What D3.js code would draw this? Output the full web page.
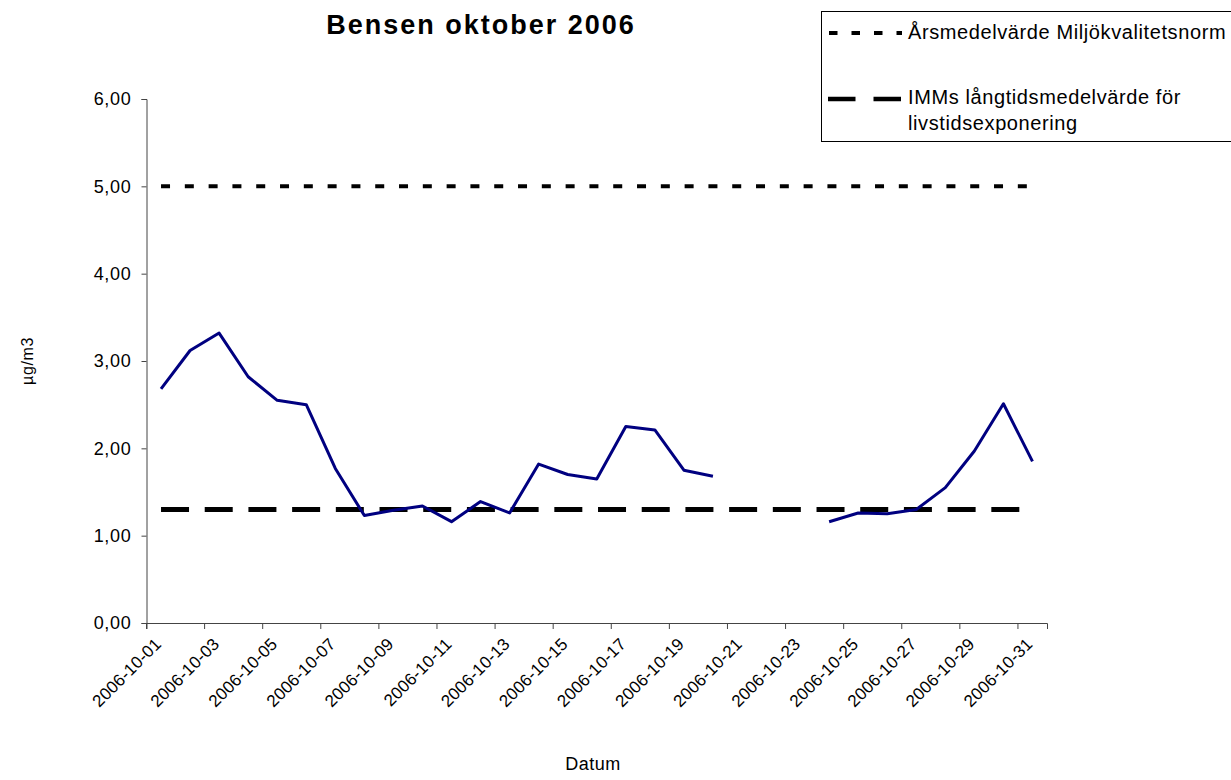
<!DOCTYPE html>
<html><head><meta charset="utf-8">
<script src="https://cdn.jsdelivr.net/npm/d3@7"></script>
<style>
body{margin:0;background:#fff;}
text{font-family:"Liberation Sans",Arial,sans-serif;fill:#000;}
</style></head>
<body><svg id="c" width="1231" height="780"></svg>
<script>
const dates = ["2006-10-01","2006-10-02","2006-10-03","2006-10-04","2006-10-05","2006-10-06","2006-10-07","2006-10-08","2006-10-09","2006-10-10","2006-10-11","2006-10-12","2006-10-13","2006-10-14","2006-10-15","2006-10-16","2006-10-17","2006-10-18","2006-10-19","2006-10-20","2006-10-21","2006-10-22","2006-10-23","2006-10-24","2006-10-25","2006-10-26","2006-10-27","2006-10-28","2006-10-29","2006-10-30","2006-10-31"];
const bensen = [2.68,3.12,3.32,2.82,2.55,2.50,1.77,1.23,1.29,1.34,1.16,1.39,1.26,1.82,1.70,1.65,2.25,2.21,1.75,1.68,null,null,null,1.16,1.26,1.25,1.30,1.55,1.97,2.51,1.85];
const arsmedel = 5.0;
const imm = 1.3;
const yTicks = [0,1,2,3,4,5,6];
const title = "Bensen oktober 2006";
const legendLabels = ["Årsmedelvärde Miljökvalitetsnorm", "IMMs långtidsmedelvärde för", "livstidsexponering"];

const svg = d3.select("#c");
const L = 146.5, R = 1047, T = 99, B = 623;
const x = d3.scaleBand().domain(dates).range([L, R]).padding(0);
const y = d3.scaleLinear().domain([0, 6]).range([B, T]);
const cx = d => x(d) + x.bandwidth() / 2;
const axisColor = "#444";
const fmt = v => d3.format(".2f")(v).replace(".", ",");

// title
svg.append("text").attr("x", 481).attr("y", 34).attr("text-anchor", "middle")
  .style("font-size", "27px").style("font-weight", "bold").style("letter-spacing", "2px").text(title);

// y axis
const ya = svg.append("g").attr("transform", `translate(${L},0)`)
  .call(d3.axisLeft(y).tickValues(yTicks).tickSize(5).tickPadding(10).tickFormat(fmt));
ya.select(".domain").attr("stroke", axisColor);
ya.selectAll(".tick line").attr("stroke", axisColor);
ya.selectAll(".tick text").style("font-size", "18px").style("letter-spacing", "0.7px")
  .style("font-family", '"Liberation Sans",Arial,sans-serif').attr("fill", "#000");

// x axis
const xTickVals = dates.filter((d, i) => i % 2 === 0);
const xa = svg.append("g").attr("transform", `translate(0,${B})`)
  .call(d3.axisBottom(x).tickValues(xTickVals).tickSize(6).tickFormat(""));
xa.select(".domain").attr("stroke", axisColor);
xa.selectAll(".tick").attr("transform", d => `translate(${x(d)},0)`);
xa.selectAll(".tick line").attr("stroke", axisColor);
xa.selectAll(".tick text").remove();
svg.append("g").selectAll("text").data(xTickVals).join("text")
  .attr("transform", d => `translate(${cx(d) - 3},${B + 18}) rotate(-45)`)
  .attr("text-anchor", "end").attr("dy", "0.35em")
  .style("font-size", "17px").style("letter-spacing", "0.2px").text(d => d);

// axis titles
svg.append("text").attr("transform", `translate(33,361) rotate(-90)`).attr("text-anchor", "middle")
  .style("font-size", "16px").style("letter-spacing", "0.6px").text("µg/m3");
svg.append("text").attr("x", 593).attr("y", 770).attr("text-anchor", "middle")
  .style("font-size", "18px").style("letter-spacing", "0.5px").text("Datum");

// reference lines
const x0 = cx(dates[0]), x1 = cx(dates[dates.length - 1]);
svg.append("line").attr("x1", x0).attr("x2", x1).attr("y1", y(arsmedel)).attr("y2", y(arsmedel))
  .attr("stroke", "#000").attr("stroke-width", 4).attr("stroke-dasharray", "9,14.8");
svg.append("line").attr("x1", x0).attr("x2", x1).attr("y1", y(imm)).attr("y2", y(imm))
  .attr("stroke", "#000").attr("stroke-width", 5).attr("stroke-dasharray", "28,15.7");

// data line
const line = d3.line().defined(d => d.v !== null).x(d => cx(d.d)).y(d => y(d.v));
svg.append("path").datum(dates.map((d, i) => ({d, v: bensen[i]})))
  .attr("d", line).attr("fill", "none").attr("stroke", "#000080").attr("stroke-width", 3)
  .attr("stroke-linejoin", "round");

// legend
const lg = svg.append("g");
lg.append("rect").attr("x", 821.5).attr("y", 11.5).attr("width", 420).attr("height", 130)
  .attr("fill", "#fff").attr("stroke", "#000").attr("stroke-width", 1);
lg.append("line").attr("x1", 829).attr("x2", 902).attr("y1", 33).attr("y2", 33)
  .attr("stroke", "#000").attr("stroke-width", 4).attr("stroke-dasharray", "8.5,14");
lg.append("line").attr("x1", 828).attr("x2", 902).attr("y1", 99).attr("y2", 99)
  .attr("stroke", "#000").attr("stroke-width", 4.5).attr("stroke-dasharray", "27.5,18");
const lgFont = t => t.style("font-size", "20px").style("letter-spacing", "0.6px");
lg.append("text").attr("x", 908).attr("y", 39).call(lgFont).text(legendLabels[0]);
lg.append("text").attr("x", 908).attr("y", 104).call(lgFont).text(legendLabels[1]);
lg.append("text").attr("x", 908).attr("y", 130).call(lgFont).text(legendLabels[2]);
</script></body></html>
